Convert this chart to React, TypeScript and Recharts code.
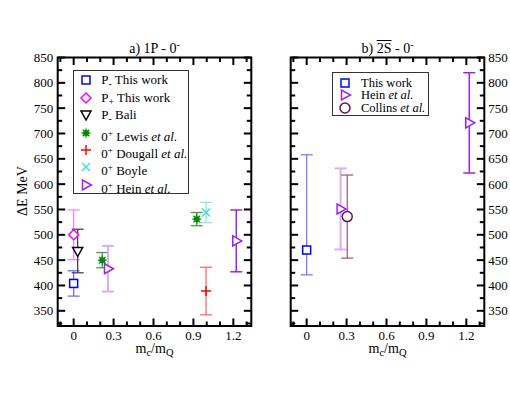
import React from 'react';
import { ScatterChart, Scatter, XAxis, YAxis, ErrorBar } from 'recharts';

// axis ticks (shared by both panels)
const xMajor = [0, 0.3, 0.6, 0.9, 1.2];
const xMinor = [-0.1, 0.1, 0.2, 0.4, 0.5, 0.7, 0.8, 1.0, 1.1, 1.3];
const yMajor = [350, 400, 450, 500, 550, 600, 650, 700, 750, 800, 850];
const yMinor = [325, 375, 425, 475, 525, 575, 625, 675, 725, 775, 825];
const X_DOMAIN: [number, number] = [-0.12, 1.335];
const Y_DOMAIN: [number, number] = [320, 850];

// panel a) 1P - 0-
const pMinusX = [0];
const pMinusY = [404];
const pMinusErr = [25];
const pPlusX = [0];
const pPlusY = [500];
const pPlusErr = [49];
const baliX = [0.03];
const baliY = [467];
const baliErr = [[42, 44]];
const lewisX = [0.215, 0.925];
const lewisY = [450, 531];
const lewisErr = [15, 13];
const dougallX = [0.995];
const dougallY = [389];
const dougallErr = [47];
const boyleX = [0.995];
const boyleY = [544];
const boyleErr = [20];
const heinAX = [0.258, 1.222];
const heinAY = [433, 488];
const heinAErr = [45, 61];

// panel b) 2S - 0-
const thisBX = [0];
const thisBY = [470];
const thisBErr = [[49, 188]];
const heinBX = [0.255, 1.222];
const heinBY = [551, 721];
const heinBErr = [80, 99];
const collinsX = [0.305];
const collinsY = [536];
const collinsErr = [82];

const FONT = '"Liberation Serif", Tinos, "Times New Roman", Times, "DejaVu Serif", serif';
const BLUE = '#0000ff';
const MAGENTA = '#ff00ff';
const GREEN = '#008b00';
const RED = '#ff0000';
const TURQ = '#40e0d0';
const VIOLET = '#a020f0';
const MAROON = '#6b0f4f';

const pts = (xs: number[], ys: number[], errs: any[]) =>
  xs.map((x, i) => ({ x, y: ys[i], err: errs[i] }));

type Kind = 'square' | 'diamond' | 'triDown' | 'triRight' | 'star' | 'plus' | 'cross' | 'circle';

function Marker({ kind, cx, cy, color }: { kind: Kind; cx: number; cy: number; color: string }) {
  const sw = 1.5;
  switch (kind) {
    case 'square':
      return <rect x={cx - 4} y={cy - 4} width={8} height={8} fill="#fff" stroke={color} strokeWidth={sw} />;
    case 'diamond':
      return (
        <polygon
          points={`${cx},${cy - 5} ${cx + 5},${cy} ${cx},${cy + 5} ${cx - 5},${cy}`}
          fill="#fff" stroke={color} strokeWidth={sw}
        />
      );
    case 'triDown':
      return (
        <polygon
          points={`${cx - 5},${cy - 4} ${cx + 5},${cy - 4} ${cx},${cy + 5}`}
          fill="#fff" stroke={color} strokeWidth={sw}
        />
      );
    case 'triRight':
      return (
        <polygon
          points={`${cx - 3.5},${cy - 5} ${cx - 3.5},${cy + 5} ${cx + 5.5},${cy}`}
          fill="#fff" stroke={color} strokeWidth={sw}
        />
      );
    case 'star':
      return (
        <g stroke={color} strokeWidth={1.3}>
          <line x1={cx - 4.5} y1={cy} x2={cx + 4.5} y2={cy} />
          <line x1={cx} y1={cy - 4.5} x2={cx} y2={cy + 4.5} />
          <line x1={cx - 3.3} y1={cy - 3.3} x2={cx + 3.3} y2={cy + 3.3} />
          <line x1={cx - 3.3} y1={cy + 3.3} x2={cx + 3.3} y2={cy - 3.3} />
          <circle cx={cx} cy={cy} r={2.3} fill={color} />
        </g>
      );
    case 'plus':
      return (
        <g stroke={color} strokeWidth={1.5}>
          <line x1={cx - 5} y1={cy} x2={cx + 5} y2={cy} />
          <line x1={cx} y1={cy - 5} x2={cx} y2={cy + 5} />
        </g>
      );
    case 'cross':
      return (
        <g stroke={color} strokeWidth={1.5}>
          <line x1={cx - 4} y1={cy - 4} x2={cx + 4} y2={cy + 4} />
          <line x1={cx - 4} y1={cy + 4} x2={cx + 4} y2={cy - 4} />
        </g>
      );
    case 'circle':
      return <circle cx={cx} cy={cy} r={5} fill="#fff" stroke={color} strokeWidth={sw} />;
  }
  return null;
}

type Series = {
  name: string;
  kind: Kind;
  color: string;
  errColor: string;
  errWidth: number;
  data: { x: number; y: number; err: any }[];
};

const seriesA: Series[] = [
  { name: 'pMinus', kind: 'square', color: BLUE, errColor: '#6f6fff', errWidth: 1.3, data: pts(pMinusX, pMinusY, pMinusErr) },
  { name: 'pPlus', kind: 'diamond', color: MAGENTA, errColor: '#ff80ff', errWidth: 1.3, data: pts(pPlusX, pPlusY, pPlusErr) },
  { name: 'bali', kind: 'triDown', color: '#000', errColor: '#444', errWidth: 1.3, data: pts(baliX, baliY, baliErr) },
  { name: 'lewis', kind: 'star', color: GREEN, errColor: '#40a040', errWidth: 1.3, data: pts(lewisX, lewisY, lewisErr) },
  { name: 'dougall', kind: 'plus', color: RED, errColor: '#ff6a6a', errWidth: 1.3, data: pts(dougallX, dougallY, dougallErr) },
  { name: 'boyle', kind: 'cross', color: TURQ, errColor: '#8be9e0', errWidth: 1.3, data: pts(boyleX, boyleY, boyleErr) },
  { name: 'heinNear', kind: 'triRight', color: VIOLET, errColor: '#d8aef4', errWidth: 2, data: pts(heinAX, heinAY, heinAErr).slice(0, 1) },
  { name: 'heinFar', kind: 'triRight', color: VIOLET, errColor: VIOLET, errWidth: 1.5, data: pts(heinAX, heinAY, heinAErr).slice(1) },
];

const seriesB: Series[] = [
  { name: 'thisWork', kind: 'square', color: BLUE, errColor: '#7b7bff', errWidth: 1.3, data: pts(thisBX, thisBY, thisBErr) },
  { name: 'heinNear', kind: 'triRight', color: VIOLET, errColor: '#d8aef4', errWidth: 2, data: pts(heinBX, heinBY, heinBErr).slice(0, 1) },
  { name: 'heinFar', kind: 'triRight', color: VIOLET, errColor: VIOLET, errWidth: 1.5, data: pts(heinBX, heinBY, heinBErr).slice(1) },
  { name: 'collins', kind: 'circle', color: MAROON, errColor: '#a3607f', errWidth: 1.3, data: pts(collinsX, collinsY, collinsErr) },
];

const isMajor = (v: number, majors: number[]) => majors.some((m) => Math.abs(m - v) < 1e-6);
const TS = { stroke: '#000', strokeWidth: 2 };

type Box = { left: number; right: number; top: number; bottom: number };

// inward tick marks on both sides of the frame, labels outside.
// p.x / p.y give the scaled tick position; the frame edges come from the panel box.
function makeTick(side: 'bottom' | 'left' | 'right', majors: number[], box: Box) {
  return (p: any) => {
    const v = p.payload.value;
    const major = isMajor(v, majors);
    const len = major ? 7.5 : 4.5;
    const txt = { fontFamily: FONT, fontSize: 13, fill: '#000' };
    if (side === 'bottom') {
      const x = p.x;
      return (
        <g>
          <line x1={x} y1={box.bottom} x2={x} y2={box.bottom - len} {...TS} />
          <line x1={x} y1={box.top} x2={x} y2={box.top + len} {...TS} />
          {major && (
            <text x={x} y={box.bottom + 4.5} dy="0.71em" textAnchor="middle" fontFamily={FONT} style={txt}>
              {String(v)}
            </text>
          )}
        </g>
      );
    }
    const y = p.y;
    const lx = side === 'left' ? box.left - 4.4 : box.right + 4;
    return (
      <g>
        <line x1={box.left} y1={y} x2={box.left + len} y2={y} {...TS} />
        <line x1={box.right} y1={y} x2={box.right - len} y2={y} {...TS} />
        {major && (
          <text x={lx} y={y} dy="0.355em" textAnchor={side === 'left' ? 'end' : 'start'} fontFamily={FONT} style={txt}>
            {String(v)}
          </text>
        )}
      </g>
    );
  };
}

const xTicks = [...xMajor, ...xMinor].sort((a, b) => a - b);
const yTicks = [...yMajor, ...yMinor].sort((a, b) => a - b);

const CHART_W = 260;
const CHART_H = 395;
const TOP = 57.5;
const X_AXIS_H = 69;

function panelLayout(labelSide: 'left' | 'right') {
  const axisW = labelSide === 'left' ? 57.7 : 25.7;
  const margin = labelSide === 'left'
    ? { top: TOP, right: 8.7, bottom: 0, left: 0 }
    : { top: TOP, right: 0, bottom: 0, left: 40.7 };
  const left = margin.left + (labelSide === 'left' ? axisW : 0);
  const right = CHART_W - margin.right - (labelSide === 'right' ? axisW : 0);
  const box: Box = { left, right, top: TOP, bottom: CHART_H - X_AXIS_H };
  return { axisW, margin, box };
}

function Panel({ series, labelSide }: { series: Series[]; labelSide: 'left' | 'right' }) {
  const { axisW, margin, box } = panelLayout(labelSide);
  return (
    <div style={{ position: 'relative', width: CHART_W, height: CHART_H }}>
      <ScatterChart width={CHART_W} height={CHART_H} margin={margin}>
        <XAxis
          xAxisId="b" dataKey="x" type="number" orientation="bottom" height={X_AXIS_H}
          domain={X_DOMAIN} allowDataOverflow ticks={xTicks} interval={0}
          tickLine={false} axisLine={false}
          tick={makeTick('bottom', xMajor, box)}
        />
        <YAxis
          yAxisId="l" dataKey="y" type="number" orientation={labelSide} width={axisW}
          domain={Y_DOMAIN} allowDataOverflow ticks={yTicks} interval={0}
          tickLine={false} axisLine={false}
          tick={makeTick(labelSide, yMajor, box)}
        />
        {series.map((s) => (
          <Scatter
            key={s.name}
            data={s.data}
            xAxisId="b"
            yAxisId="l"
            isAnimationActive={false}
            shape={(p: any) => <Marker kind={s.kind} cx={p.cx} cy={p.cy} color={s.color} />}
          >
            <ErrorBar dataKey="err" direction="y" width={6} stroke={s.errColor} strokeWidth={s.errWidth} isAnimationActive={false} />
          </Scatter>
        ))}
      </ScatterChart>
      {/* plot frame */}
      <svg width={CHART_W} height={CHART_H} style={{ position: 'absolute', left: 0, top: 0, pointerEvents: 'none' }}>
        <rect
          x={box.left} y={box.top} width={box.right - box.left} height={box.bottom - box.top}
          fill="none" stroke="#000" strokeWidth={2}
        />
      </svg>
    </div>
  );
}

const sub = (t: string) => <span style={{ fontSize: '0.75em', verticalAlign: '-0.3em' }}>{t}</span>;
const sup = (t: string) => <span style={{ fontSize: '0.7em', verticalAlign: '0.55em' }}>{t}</span>;
const em = (t: string) => <i>{t}</i>;

const legendA: { kind: Kind; color: string; label: React.ReactNode }[] = [
  { kind: 'square', color: BLUE, label: <>P{sub('-')} This work</> },
  { kind: 'diamond', color: MAGENTA, label: <>P{sub('+')} This work</> },
  { kind: 'triDown', color: '#000', label: <>P{sub('-')} Bali</> },
  { kind: 'star', color: GREEN, label: <>0{sup('+')} Lewis {em('et al.')}</> },
  { kind: 'plus', color: RED, label: <>0{sup('+')} Dougall {em('et al.')}</> },
  { kind: 'cross', color: TURQ, label: <>0{sup('+')} Boyle</> },
  { kind: 'triRight', color: VIOLET, label: <>0{sup('+')} Hein {em('et al.')}</> },
];

const legendB: { kind: Kind; color: string; label: React.ReactNode }[] = [
  { kind: 'square', color: BLUE, label: <>This work</> },
  { kind: 'triRight', color: VIOLET, label: <>Hein {em('et al.')}</> },
  { kind: 'circle', color: MAROON, label: <>Collins {em('et al.')}</> },
];

function LegendBox({ items, left, top, width, height, rowTop, rowStep, symX, textX, fontSize }: any) {
  return (
    <div
      style={{
        position: 'absolute', left, top, width, height, border: '1px solid #333',
        background: '#fff', boxSizing: 'border-box',
      }}
    >
      {items.map((it: any, i: number) => {
        const cy = rowTop + i * rowStep;
        return (
          <React.Fragment key={i}>
            <svg width={16} height={16} style={{ position: 'absolute', left: symX - 8, top: cy - 8 }}>
              <Marker kind={it.kind} cx={8} cy={8} color={it.color} />
            </svg>
            <div
              style={{
                position: 'absolute', left: textX, top: cy - 8, height: 16, lineHeight: '16px',
                fontSize, whiteSpace: 'nowrap', color: '#000',
              }}
            >
              {it.label}
            </div>
          </React.Fragment>
        );
      })}
    </div>
  );
}

const abs = (left: number, top: number, extra: React.CSSProperties = {}): React.CSSProperties => ({
  position: 'absolute', left, top, ...extra,
});

export default function App() {
  return (
    <div style={{ position: 'absolute', left: 0, top: 0, width: 510, height: 395, background: '#fff', fontFamily: FONT, overflow: 'hidden' }}>
      <div style={abs(0, 0)}>
        <Panel series={seriesA} labelSide="left" />
      </div>
      <div style={abs(250, 0)}>
        <Panel series={seriesB} labelSide="right" />
      </div>

      <div style={abs(54.5, 36, { width: 200, textAlign: 'center', fontSize: 14, lineHeight: '18px' })}>
        a) 1P - 0{sup('-')}
      </div>
      <div style={abs(287.5, 36, { width: 200, textAlign: 'center', fontSize: 14, lineHeight: '18px' })}>
        b) <span style={{ textDecoration: 'overline' }}>2S</span> - 0{sup('-')}
      </div>

      <div style={abs(54.5, 340, { width: 200, textAlign: 'center', fontSize: 14, lineHeight: '18px' })}>
        m{sub('c')}/m{sub('Q')}
      </div>
      <div style={abs(287.5, 340, { width: 200, textAlign: 'center', fontSize: 14, lineHeight: '18px' })}>
        m{sub('c')}/m{sub('Q')}
      </div>

      <div style={abs(-27, 182, { width: 100, textAlign: 'center', fontSize: 14, lineHeight: '18px', transform: 'rotate(-90deg)' })}>
        ΔE MeV
      </div>

      <LegendBox items={legendA} left={73.3} top={70} width={116} height={124}
        rowTop={9.3} rowStep={17.4} symX={12} textX={27} fontSize={13} />
      <LegendBox items={legendB} left={332} top={72} width={97} height={44}
        rowTop={9.7} rowStep={12.7} symX={12.3} textX={28} fontSize={12.5} />
    </div>
  );
}
